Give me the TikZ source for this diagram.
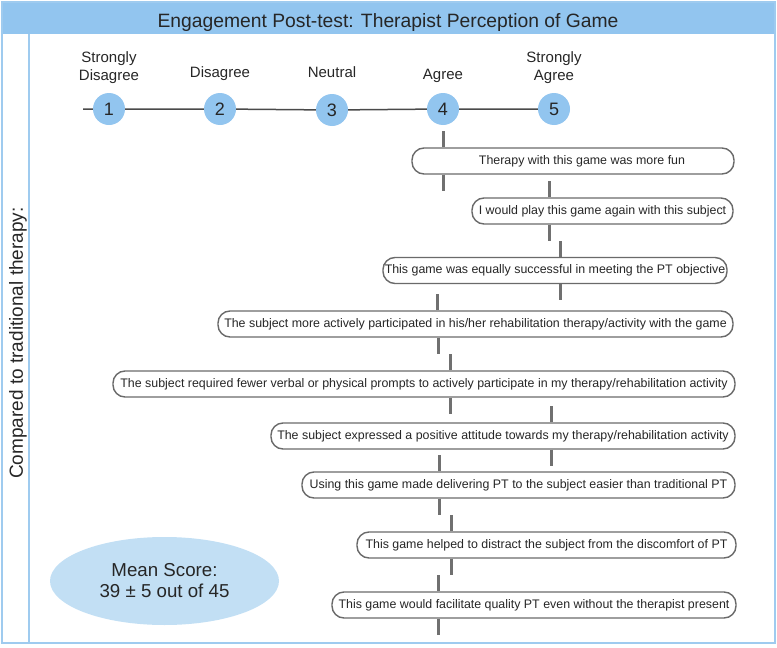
\documentclass[tikz,border=0pt]{standalone}
\usepackage{fontspec}
\setmainfont{Liberation Sans}
\usetikzlibrary{shapes.geometric}
\definecolor{barblue}{HTML}{92C5EF}
\definecolor{frameblue}{HTML}{9FCBEF}
\definecolor{ellblue}{HTML}{C2DFF4}
\definecolor{txt}{HTML}{262626}
\definecolor{boxgray}{HTML}{6A6A6A}
\definecolor{tickgray}{HTML}{707070}
\definecolor{linegray}{HTML}{4A4A4A}
\begin{document}
\begin{tikzpicture}[x=1pt,y=-1pt,
  every node/.style={text=txt},
  stmt/.style={draw=boxgray, line width=1.4pt, rounded corners=12pt, fill=white,
    minimum height=26pt, inner sep=0pt, font=\fontsize{12.4}{14}\selectfont},
  ptc/.style={circle, fill=barblue, minimum size=32pt, inner sep=0pt,
    font=\fontsize{18}{20}\selectfont},
  lbl/.style={align=center, font=\fontsize{15}{18}\selectfont, anchor=base},
  tickln/.style={draw=tickgray, line width=3pt}]
\useasboundingbox (0,0) rectangle (777,648);
% frame
\fill[barblue] (2,2) rectangle (775,34);
\draw[frameblue, line width=2pt] (2,2) rectangle (775,643);
\draw[frameblue, line width=2pt] (29,34) -- (29,643);
\node[anchor=base, font=\fontsize{19.3}{22}\selectfont] (title) at (388,27)
  {Engagement Post-test: Therapist Perception of Game};
\node[anchor=base, rotate=90, font=\fontsize{19}{22}\selectfont] (side) at (23,343)
  {Compared to traditional therapy:};
% scale
\node[ptc] (c1) at (109,109) {1};
\node[ptc] (c2) at (220,109) {2};
\node[ptc] (c3) at (332,110) {3};
\node[ptc] (c4) at (443,109) {4};
\node[ptc] (c5) at (554,109) {5};
\coordinate (lstart) at (83,109);
\draw[linegray, line width=1.5pt] (lstart) -- (c1) -- (c2) -- (c3) -- (c4) -- (c5);
\node[lbl] (l1) at (109,80) {Strongly\\Disagree};
\node[lbl] (l2) at (220,77) {Disagree};
\node[lbl] (l3) at (332,77) {Neutral};
\node[lbl] (l4) at (443,79) {Agree};
\node[lbl] (l5) at (554,80) {Strongly\\Agree};
% statements
\node[stmt, minimum width=322pt] (b1) at (573,161) {\hspace*{18pt}Therapy with this game was more fun};
\node[stmt, minimum width=261pt] (b2) at (602.5,211) {I would play this game again with this subject};
\node[stmt, minimum width=344pt] (b3) at (555,270.5) {This game was equally successful in meeting the PT objective};
\node[stmt, minimum width=515pt] (b4) at (475.5,324) {The subject more actively participated in his/her rehabilitation therapy/activity with the game};
\node[stmt, minimum width=622pt] (b5) at (424,384) {The subject required fewer verbal or physical prompts to actively participate in my therapy/rehabilitation activity};
\node[stmt, minimum width=464pt] (b6) at (503,436) {The subject expressed a positive attitude towards my therapy/rehabilitation activity};
\node[stmt, minimum width=433pt] (b7) at (518.5,485) {Using this game made delivering PT to the subject easier than traditional PT};
\node[stmt, minimum width=379pt] (b8) at (546.5,545) {This game helped to distract the subject from the discomfort of PT};
\node[stmt, minimum width=404pt] (b9) at (534,605) {This game would facilitate quality PT even without the therapist present};
% ticks
\foreach \b/\xa/\xb in {b1/443/443, b2/549/549, b3/560/560, b4/437/438, b5/450/450,
    b6/551/551, b7/439/439, b8/451/451, b9/438/438} {
  \coordinate (\b-ut) at (\xa,0 |- \b.north);
  \coordinate (\b-dt) at (\xb,0 |- \b.south);
  \draw[tickln] (\b-ut) -- ++(0,-16);
  \draw[tickln] (\b-dt) -- ++(0,16);
}
% mean score
\node[ellipse, fill=ellblue, minimum width=229pt, minimum height=88pt, inner sep=0pt,
  align=center, font=\fontsize{18.7}{21}\selectfont] (mean) at (164.5,581)
  {Mean Score:\\39 ± 5 out of 45};
\end{tikzpicture}
\end{document}
